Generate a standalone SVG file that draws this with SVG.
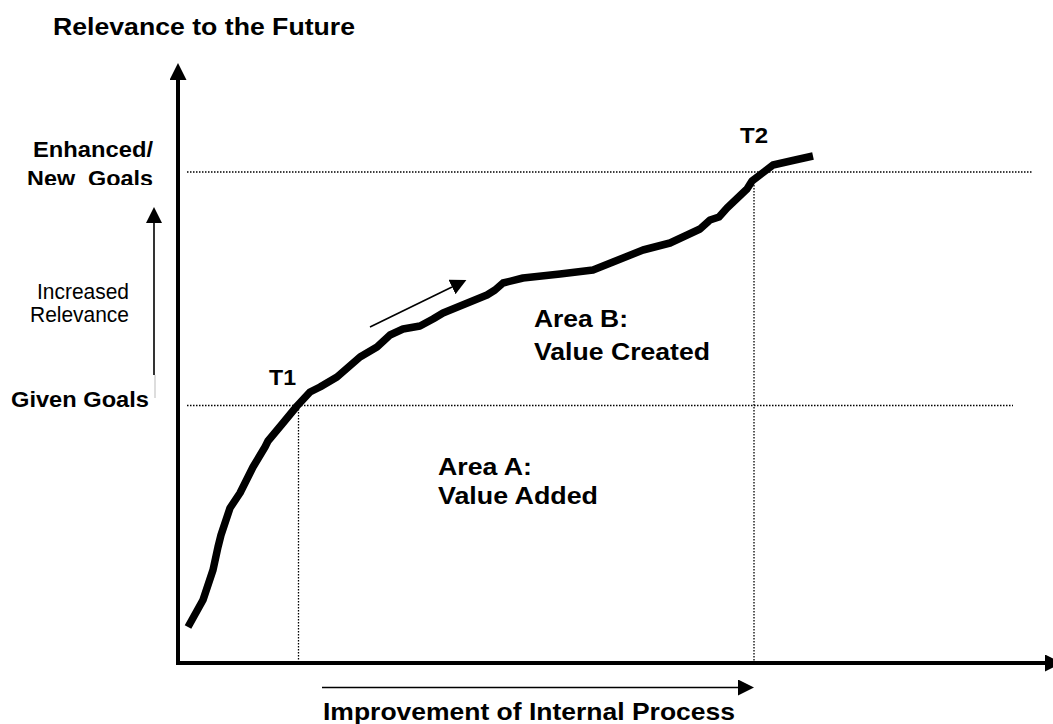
<svg xmlns="http://www.w3.org/2000/svg" width="1053" height="724" viewBox="0 0 1053 724">
  <style>
    .bold { font-family: "Liberation Sans", Arial, sans-serif; font-weight: bold; fill: #000; }
    .big { font-size: 24.5px; }
    .mid { font-size: 24px; }
    .small { font-size: 21.5px; }
    .plain { font-family: "Liberation Sans", Arial, sans-serif; font-size: 21.5px; fill: #000; }
    .axis { stroke: #000; stroke-width: 4; fill: none; }
    .guide { stroke: #000; stroke-width: 1.3; stroke-dasharray: 1.5 1.5; fill: none; }
    .thin { stroke: #000; stroke-width: 1.6; fill: none; }
    .curve { stroke: #000; stroke-width: 7.5; fill: none; stroke-linejoin: round; stroke-linecap: butt; }
  </style>
  <defs>
    <marker id="headBig" markerUnits="userSpaceOnUse" markerWidth="17" markerHeight="17" refX="0" refY="8.5" orient="auto" viewBox="0 0 17 17">
      <path d="M0,0 L17,8.5 L0,17 Z" fill="#000"/>
    </marker>
    <marker id="headSmall" markerUnits="userSpaceOnUse" markerWidth="16" markerHeight="16" refX="0" refY="8" orient="auto" viewBox="0 0 16 16">
      <path d="M0,0 L16,8 L0,16 Z" fill="#000"/>
    </marker>
    <clipPath id="clipGoals">
      <rect x="0" y="160" width="170" height="25"/>
    </clipPath>
  </defs>

  <rect width="1053" height="724" fill="#fff"/>

  <!-- reference levels and times -->
  <g id="guides">
    <line class="guide" x1="187" y1="172" x2="1033" y2="172"/>
    <line class="guide" x1="187" y1="405.5" x2="1013" y2="405.5"/>
    <line class="guide" x1="298.5" y1="406" x2="298.5" y2="662"/>
    <line class="guide" x1="754" y1="182" x2="754" y2="662"/>
  </g>

  <!-- axes and direction arrows -->
  <g id="connectors">
    <line class="axis" x1="178" y1="665" x2="178" y2="80" marker-end="url(#headBig)"/>
    <line class="axis" x1="176" y1="663" x2="1045" y2="663" marker-end="url(#headBig)"/>
    <line class="thin" x1="322" y1="687.5" x2="738" y2="687.5" marker-end="url(#headSmall)"/>
    <line class="thin" x1="154" y1="375" x2="154" y2="223" marker-end="url(#headSmall)"/>
    <line x1="155" y1="375" x2="155" y2="398" stroke="#bbb" stroke-width="1"/>
    <line class="thin" x1="370" y1="327" x2="452" y2="287" marker-end="url(#headSmall)"/>
  </g>

  <!-- value curve -->
  <g id="curve">
    <path class="curve" d="M188,627 L203,600 L213,570 L218,547 L221,535 L230,508 L240,493 L253,467 L265,447 L268,441 L283,423 L297,406 L310,392 L320,387 L337,377 L360,357 L377,347 L390,335 L403,329 L420,326 L433,319 L443,313 L465,304 L487,295 L495,290 L503,283 L523,278 L560,274 L593,270 L613,262 L643,250 L670,243 L700,229 L710,220 L719,217 L727,208 L747,189 L752,181 L773,165 L795,160 L813,156"/>
  </g>

  <g id="title-y">
    <text class="bold big" x="53" y="35" textLength="302" lengthAdjust="spacingAndGlyphs">Relevance to the Future</text>
  </g>
  <g id="label-enhanced">
    <text class="bold small" x="153" y="157" text-anchor="end" textLength="120" lengthAdjust="spacingAndGlyphs">Enhanced/</text>
    <text class="bold small" x="153" y="186" text-anchor="end" clip-path="url(#clipGoals)" xml:space="preserve" textLength="126" lengthAdjust="spacingAndGlyphs">New  Goals</text>
  </g>
  <g id="label-increased">
    <text class="plain" x="129" y="299" text-anchor="end" textLength="92" lengthAdjust="spacingAndGlyphs">Increased</text>
    <text class="plain" x="129" y="322" text-anchor="end" textLength="99" lengthAdjust="spacingAndGlyphs">Relevance</text>
  </g>
  <g id="label-given">
    <text class="bold small" x="149" y="407" text-anchor="end" textLength="138" lengthAdjust="spacingAndGlyphs">Given Goals</text>
  </g>
  <g id="label-t1">
    <text class="bold small" x="269" y="385" textLength="27" lengthAdjust="spacingAndGlyphs">T1</text>
  </g>
  <g id="label-t2">
    <text class="bold small" x="740" y="143" textLength="28" lengthAdjust="spacingAndGlyphs">T2</text>
  </g>
  <g id="area-b">
    <text class="bold mid" x="534" y="327" textLength="94" lengthAdjust="spacingAndGlyphs">Area B:</text>
    <text class="bold mid" x="534" y="360" textLength="176" lengthAdjust="spacingAndGlyphs">Value Created</text>
  </g>
  <g id="area-a">
    <text class="bold mid" x="438" y="475" textLength="94" lengthAdjust="spacingAndGlyphs">Area A:</text>
    <text class="bold mid" x="438" y="504" textLength="160" lengthAdjust="spacingAndGlyphs">Value Added</text>
  </g>
  <g id="title-x">
    <text class="bold big" x="323" y="720" textLength="412" lengthAdjust="spacingAndGlyphs">Improvement of Internal Process</text>
  </g>
</svg>
